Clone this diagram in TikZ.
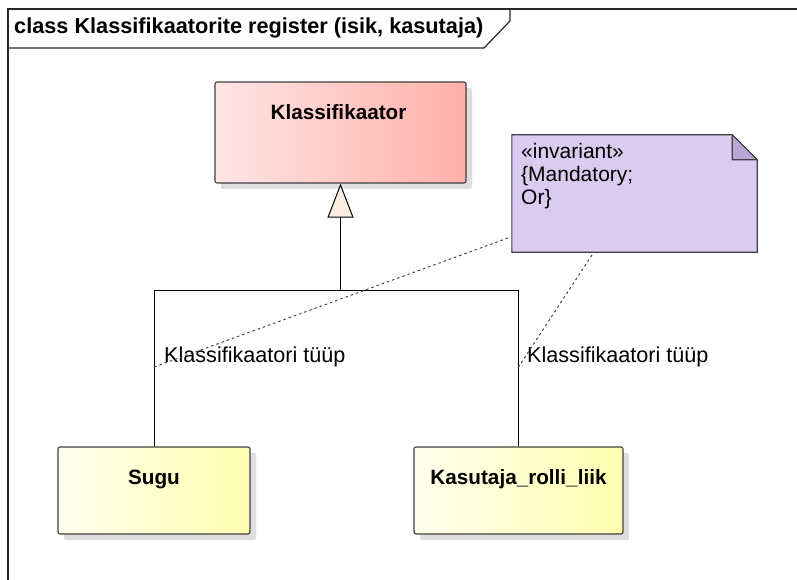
\documentclass[tikz,border=0pt]{standalone}
\usepackage{fontspec}
\setmainfont{Liberation Sans}
\usetikzlibrary{arrows.meta,shadows,calc}

\definecolor{frameline}{RGB}{40,40,40}
\definecolor{boxline}{RGB}{64,64,64}
\definecolor{pinkL}{RGB}{255,229,229}
\definecolor{pinkR}{RGB}{255,176,168}
\definecolor{yellowL}{RGB}{255,255,238}
\definecolor{yellowR}{RGB}{255,255,176}
\definecolor{notefill}{RGB}{217,204,240}
\definecolor{foldfill}{RGB}{184,168,214}
\definecolor{genfill}{RGB}{251,239,223}
\definecolor{dotline}{RGB}{70,70,70}

\begin{document}
\begin{tikzpicture}[x=1pt,y=-1pt,
  framestyle/.style={draw=frameline, line width=1.2pt},
  classbox/.style={draw=boxline, line width=1.1pt, rounded corners=2pt,
    inner sep=0pt, shading=axis, left color=#1L, right color=#1R,
    drop shadow={shadow xshift=6pt, shadow yshift=-6pt, fill=black!13, opacity=1}},
  classname/.style={font=\fontsize{20.7}{24}\selectfont\bfseries, anchor=base, inner sep=0pt},
  rolename/.style={font=\fontsize{21.6}{24}\selectfont, anchor=base west, inner sep=0pt},
  genline/.style={draw=black, line width=1pt},
  gentip/.style={-{Triangle[length=34pt, width=26pt, fill=genfill, line join=miter]}},
  constraint/.style={draw=dotline, line width=1pt, dash pattern=on 2.5pt off 3pt},
  notetext/.style={font=\fontsize{21}{23}\selectfont, align=left, anchor=north west, inner sep=0pt}
]
\useasboundingbox (0,0) rectangle (797,580);

% diagram frame and its name tab
\begin{scope}
  \clip (0,0) rectangle (797,580);
  \draw[framestyle] (8,640) -- (8,9) -- (840,9);
\end{scope}
\draw[framestyle] (8,48) -- (484,48) -- (510,21) -- (510,9);
\node[font=\fontsize{21.7}{24}\selectfont\bfseries, anchor=base west, inner sep=0pt]
  (title) at (14,34) {class Klassifikaatorite register (isik, kasutaja)};

% classes
\node[classbox=pink, minimum width=251pt, minimum height=101pt] (klass) at (340.5,132.5) {};
\node[classname] (klassname) at ($(klass.north)+(-2,38)$) {Klassifikaator};

\node[classbox=yellow, minimum width=192pt, minimum height=87pt] (sugu) at (154,490.5) {};
\node[classname] (suguname) at ($(sugu.north)+(0,38)$) {Sugu};

\node[classbox=yellow, minimum width=209pt, minimum height=87pt] (kasutaja) at (518.5,490.5) {};
\node[classname] (kasutajaname) at ($(kasutaja.north)+(0,38)$) {Kasutaja\_rolli\_liik};

% generalization tree
\coordinate (joint) at (klass.south |- 0,290);
\draw[genline] (sugu.north) |- (joint);
\draw[genline] (kasutaja.north) |- (joint);
\draw[genline, gentip] (joint) -- (klass.south);

% role names on the generalization ends
\node[rolename] (role1) at (164,362) {Klassifikaatori tüüp};
\node[rolename] (role2) at (527,362) {Klassifikaatori tüüp};

% constraint note
\node[minimum width=245pt, minimum height=117pt, inner sep=0pt] (note) at (634.5,193.5) {};
\filldraw[fill=notefill, draw=boxline, line width=1.1pt, line join=miter]
  (note.north west) -- ($(note.north east)+(-25,0)$) -- ($(note.north east)+(0,25)$)
  -- (note.south east) -- (note.south west) -- cycle;
\filldraw[fill=foldfill, draw=boxline, line width=1.1pt, line join=miter]
  ($(note.north east)+(-25,0)$) -- ($(note.north east)+(-25,25)$) -- ($(note.north east)+(0,25)$) -- cycle;
\node[notetext] (notebody) at (521,143.5) {«invariant»\\{\{}Mandatory;\\Or{\}}};

% constraint links from the note to the generalization ends
\coordinate (n1) at (508,238);
\coordinate (n2) at (592,255);
\coordinate (c1) at (sugu.north |- 0,367);
\coordinate (c2) at (kasutaja.north |- 0,367);
\draw[constraint] (n1) -- (c1);
\draw[constraint] (n2) -- (c2);
\end{tikzpicture}
\end{document}
